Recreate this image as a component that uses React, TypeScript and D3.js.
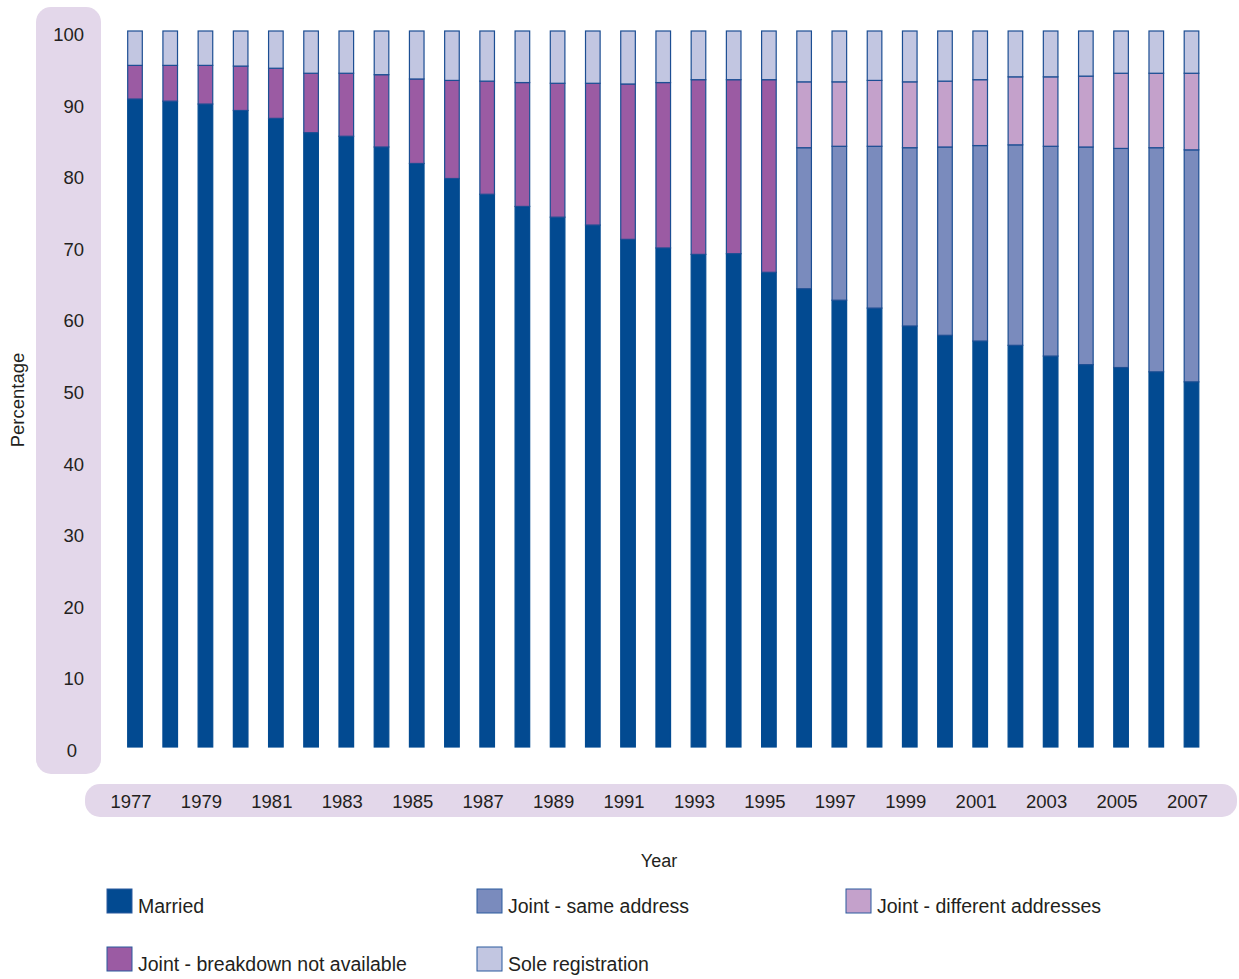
import React from "react";
import * as d3 from "d3";

const years = d3.range(1977, 2008).map(String);
const married = [90.5, 90.2, 89.8, 88.9, 87.8, 85.8, 85.3, 83.8, 81.5, 79.4, 77.2, 75.5, 74.0, 72.9, 70.9, 69.7, 68.8, 68.9, 66.3, 64.0, 62.4, 61.3, 58.8, 57.5, 56.7, 56.1, 54.6, 53.4, 53.0, 52.4, 51.0];
const jointSame = [0, 0, 0, 0, 0, 0, 0, 0, 0, 0, 0, 0, 0, 0, 0, 0, 0, 0, 0, 19.7, 21.5, 22.6, 24.9, 26.3, 27.3, 28.0, 29.3, 30.4, 30.6, 31.3, 32.4];
const jointDiff = [0, 0, 0, 0, 0, 0, 0, 0, 0, 0, 0, 0, 0, 0, 0, 0, 0, 0, 0, 9.2, 9.0, 9.2, 9.2, 9.2, 9.2, 9.5, 9.7, 9.9, 10.5, 10.4, 10.7];
const jointNA = [4.7, 5.0, 5.4, 6.2, 7.0, 8.3, 8.8, 10.1, 11.8, 13.7, 15.8, 17.3, 18.7, 19.8, 21.7, 23.1, 24.4, 24.3, 26.9, 0, 0, 0, 0, 0, 0, 0, 0, 0, 0, 0, 0];
const sole = [4.8, 4.8, 4.8, 4.9, 5.2, 5.9, 5.9, 6.1, 6.7, 6.9, 7.0, 7.2, 7.3, 7.3, 7.4, 7.2, 6.8, 6.8, 6.8, 7.1, 7.1, 6.9, 7.1, 7.0, 6.8, 6.4, 6.4, 6.3, 5.9, 5.9, 5.9];
const yTicks = [0, 10, 20, 30, 40, 50, 60, 70, 80, 90, 100];
const xLabels = years.filter((_, i) => i % 2 === 0);

const seriesKeys = ["married", "jointSame", "jointDiff", "jointNA", "sole"];
const seriesNames = ["Married", "Joint - same address", "Joint - different addresses", "Joint - breakdown not available", "Sole registration"];
const colors = ["#024a91", "#7a8bbd", "#c4a1cb", "#9b5ba3", "#c2c6e1"];
const legendOrder = [0, 1, 2, 3, 4];

const W = 1239;
const H = 979;
const textColor = "#231f20";
const pill = "#e3d7ea";
const font = "'Liberation Sans', Arial, Helvetica, sans-serif";

export default function App() {
  const rows = years.map((y, i) => ({
    year: y,
    married: married[i],
    jointSame: jointSame[i],
    jointDiff: jointDiff[i],
    jointNA: jointNA[i],
    sole: sole[i],
  }));
  const stack = d3.stack<any>().keys(seriesKeys);
  const stacked = stack(rows);

  const x = d3.scalePoint<string>().domain(years).range([135, 1191.5]);
  const y = d3.scaleLinear().domain([0, 100]).range([747, 31]);
  const bw = 14.6;

  const legendPos = [
    [107, 889], [477, 889], [846, 889],
    [107, 947], [477, 947],
  ];

  return (
    <svg width={W} height={H} style={{ position: "absolute", left: 0, top: 0 }} fontFamily={font}>
      <style>{`body{margin:0}`}</style>
      <rect x={36} y={7} width={65} height={767} rx={15} fill={pill} />
      <rect x={85} y={784} width={1152} height={33} rx={15} fill={pill} />

      {yTicks.map((t) => (
        <text key={t} x={t === 0 ? 77 : 84} y={y(t) + 10} textAnchor="end" fontSize={18.5} fill={textColor}>
          {t}
        </text>
      ))}

      {xLabels.map((yr) => (
        <text key={yr} x={(x(yr) as number) - 4} y={808} textAnchor="middle" fontSize={18.5} fill={textColor}>
          {yr}
        </text>
      ))}

      <text transform="translate(24,400) rotate(-90)" textAnchor="middle" fontSize={18.5} fill={textColor}>
        Percentage
      </text>
      <text x={659} y={867} textAnchor="middle" fontSize={18} fill={textColor}>
        Year
      </text>

      {stacked.map((s, si) => (
        <g key={s.key}>
          {s.map((d, i) => {
            const h = y(d[0]) - y(d[1]);
            if (h <= 0) return null;
            return (
              <rect
                key={i}
                x={(x(years[i]) as number) - bw / 2}
                y={y(d[1])}
                width={bw}
                height={h}
                fill={colors[si]}
                stroke={si === 0 ? colors[0] : "#1c4e93"}
                strokeWidth={1.2}
              />
            );
          })}
        </g>
      ))}

      {legendOrder.map((k, i) => (
        <g key={k} transform={`translate(${legendPos[i][0]},${legendPos[i][1]})`}>
          <rect x={0} y={0} width={25} height={24} fill={colors[k]} stroke="#2a5a9e" strokeWidth={1} />
          <text x={31} y={24} fontSize={19.5} fill={textColor}>
            {seriesNames[k]}
          </text>
        </g>
      ))}
    </svg>
  );
}
